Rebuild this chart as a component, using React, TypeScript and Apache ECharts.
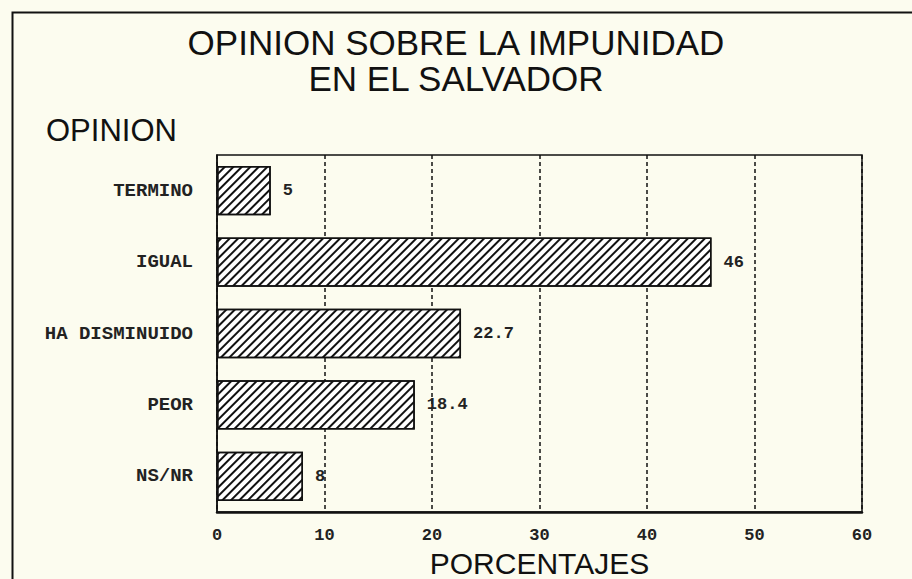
import React, { useEffect, useRef } from "react";
import * as echarts from "echarts";

const titleLines = ["OPINION SOBRE LA IMPUNIDAD", "EN EL SALVADOR"];
const yAxisTitle = "OPINION";
const xAxisTitle = "PORCENTAJES";
const categories = ["TERMINO", "IGUAL", "HA DISMINUIDO", "PEOR", "NS/NR"];
const values = [5, 46, 22.7, 18.4, 8];
const xTicks = { min: 0, max: 60, interval: 10 };

const MONO = "'Liberation Mono', 'DejaVu Sans Mono', monospace";
const SANS = "'Liberation Sans', Arial, sans-serif";

export default function App() {
  const ref = useRef<HTMLDivElement>(null);
  useEffect(() => {
    if (!ref.current) return;
    const chart = echarts.init(ref.current, undefined, { renderer: "svg" });
    chart.setOption({
      animation: false,
      backgroundColor: "#fcfcef",
      title: [
        {
          text: titleLines.join("\n"),
          left: "center",
          top: 19,
          textStyle: { fontFamily: SANS, fontSize: 35, fontWeight: "normal", color: "#111", lineHeight: 36 },
        },
        {
          text: yAxisTitle,
          left: 41,
          top: 110,
          textStyle: { fontFamily: SANS, fontSize: 31, fontWeight: "normal", color: "#111" },
        },
      ],
      graphic: [
        {
          type: "polyline",
          shape: { points: [[12.5, 579], [12.5, 12.5], [912, 12.5]] },
          style: { stroke: "#111", lineWidth: 2, fill: "none" },
          silent: true,
        },
      ],
      grid: {
        left: 217,
        right: 50,
        top: 155,
        bottom: 67,
        outerBoundsMode: "none",
        containLabel: false,
        show: true,
        borderColor: "#111",
        borderWidth: 1.5,
        backgroundColor: "transparent",
      },
      xAxis: {
        type: "value",
        min: xTicks.min,
        max: xTicks.max,
        interval: xTicks.interval,
        name: xAxisTitle,
        nameLocation: "middle",
        nameGap: 33,
        nameTextStyle: { fontFamily: SANS, fontSize: 30, lineHeight: 30, color: "#111" },
        axisLine: { show: true, lineStyle: { color: "#111", width: 2.5 } },
        axisTick: { show: false },
        axisLabel: { fontFamily: MONO, fontSize: 17, fontWeight: "bold", color: "#222", margin: 15 },
        splitLine: { show: true, lineStyle: { color: "#111", type: [4, 3], width: 1.5 } },
      },
      yAxis: {
        type: "category",
        data: categories,
        inverse: true,
        axisLine: { show: true, lineStyle: { color: "#111", width: 1.5 } },
        axisTick: { show: true, inside: true, alignWithLabel: true, length: 5, lineStyle: { color: "#111" } },
        axisLabel: { fontFamily: MONO, fontSize: 19, fontWeight: "bold", color: "#222", margin: 24 },
        splitLine: { show: false },
      },
      series: [
        {
          type: "bar",
          data: values,
          barCategoryGap: "31%",
          itemStyle: {
            color: "#ffffff",
            borderColor: "#111",
            borderWidth: 1.5,
            decal: {
              symbol: "rect",
              symbolSize: 1,
              dashArrayX: [1, 0],
              dashArrayY: [1.5, 3.5],
              rotation: -Math.PI / 4,
              color: "#111",
              backgroundColor: "#ffffff",
            },
          },
          label: {
            show: true,
            position: "right",
            distance: 12,
            fontFamily: MONO,
            fontSize: 17,
            fontWeight: "bold",
            color: "#222",
          },
        },
      ],
    });
    return () => chart.dispose();
  }, []);
  return <div ref={ref} style={{ position: "absolute", left: 0, top: 0, width: 912, height: 579 }} />;
}
